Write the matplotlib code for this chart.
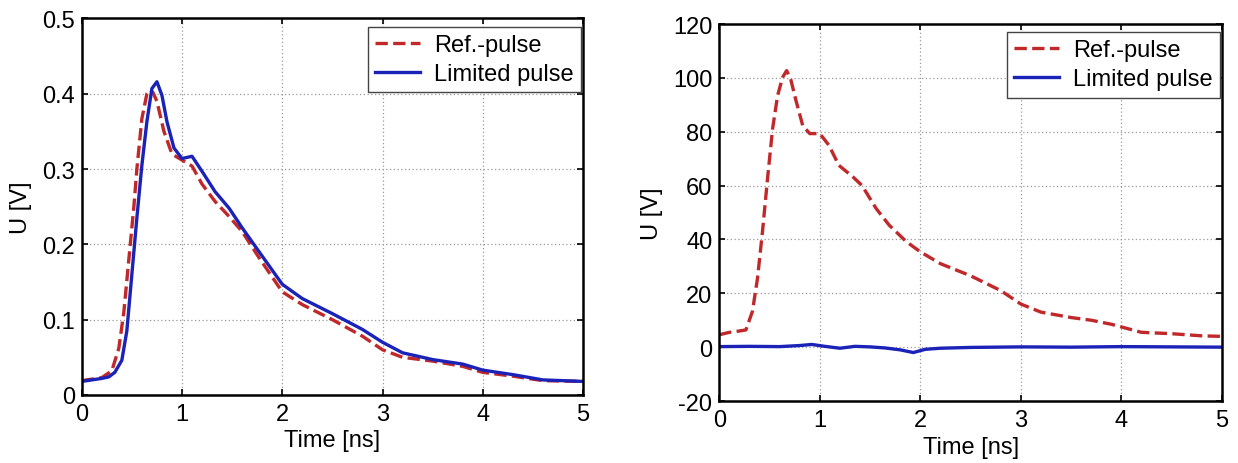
import matplotlib
matplotlib.use("Agg")
import matplotlib.pyplot as plt
import numpy as np

plt.rcParams['font.family'] = ['Liberation Sans', 'DejaVu Sans']

# left panel: small signal (V)
t_ref_a = [0, 0.1, 0.2, 0.3, 0.37, 0.42, 0.47, 0.52, 0.55, 0.6, 0.65, 0.68, 0.71, 0.75, 0.82, 0.9, 1.0, 1.1, 1.2, 1.33, 1.47, 1.6, 1.77, 2.0, 2.2, 2.5, 2.8, 3.0, 3.2, 3.5, 3.8, 4.0, 4.3, 4.6, 5.0]
u_ref_a = [0.019, 0.021, 0.023, 0.032, 0.062, 0.11, 0.18, 0.25, 0.30, 0.367, 0.40, 0.405, 0.402, 0.39, 0.35, 0.32, 0.312, 0.304, 0.28, 0.257, 0.237, 0.217, 0.182, 0.137, 0.12, 0.10, 0.078, 0.06, 0.05, 0.045, 0.038, 0.03, 0.025, 0.019, 0.018]
t_lim_a = [0, 0.1, 0.2, 0.27, 0.33, 0.4, 0.45, 0.5, 0.55, 0.6, 0.65, 0.7, 0.75, 0.8, 0.85, 0.92, 1.0, 1.1, 1.2, 1.33, 1.47, 1.6, 1.77, 2.0, 2.2, 2.5, 2.8, 3.0, 3.2, 3.5, 3.8, 4.0, 4.3, 4.6, 5.0]
u_lim_a = [0.018, 0.02, 0.022, 0.024, 0.03, 0.046, 0.085, 0.16, 0.235, 0.305, 0.363, 0.407, 0.416, 0.398, 0.363, 0.328, 0.314, 0.317, 0.297, 0.27, 0.248, 0.222, 0.19, 0.147, 0.128, 0.108, 0.087, 0.07, 0.056, 0.047, 0.041, 0.033, 0.027, 0.02, 0.018]

# right panel: large signal (V)
t_ref_b = [0, 0.1, 0.2, 0.265, 0.33, 0.38, 0.43, 0.48, 0.53, 0.58, 0.63, 0.67, 0.71, 0.76, 0.83, 0.9, 1.0, 1.09, 1.19, 1.33, 1.42, 1.56, 1.69, 1.86, 2.0, 2.2, 2.5, 2.8, 3.0, 3.2, 3.5, 3.7, 3.9, 4.0, 4.2, 4.5, 4.8, 5.0]
u_ref_b = [4.6, 5.5, 6, 6.4, 13.3, 25.5, 43, 62.6, 81, 93.4, 100.2, 102.7, 99.6, 92, 82.3, 79.3, 79.3, 75, 67.5, 63.2, 60, 51.5, 45.3, 39.2, 35.4, 31, 26.5, 21, 16, 13, 11, 10, 8.5, 7.5, 5.5, 5, 4.2, 4]
t_lim_b = [0, 0.3, 0.6, 0.8, 0.92, 1.05, 1.2, 1.35, 1.5, 1.65, 1.8, 1.93, 2.05, 2.2, 2.5, 3.0, 3.5, 4.0, 4.5, 5.0]
u_lim_b = [0.2, 0.3, 0.2, 0.6, 1.0, 0.3, -0.4, 0.3, 0.1, -0.3, -1.0, -2.0, -0.8, -0.4, -0.1, 0.1, 0.0, 0.2, 0.1, 0.0]

legend_labels = ["Ref.-pulse", "Limited pulse"]
red = "#c0282a"
blue = "#1a22b8"

fig = plt.figure(figsize=(12.38, 4.64), dpi=100)
ax1 = fig.add_axes([0.066, 0.1466, 0.405, 0.8114])
ax2 = fig.add_axes([0.581, 0.1336, 0.406, 0.8125])


def style_axes(ax, ylim, yticks, yticklabels):
    ax.set_xlim(0, 5)
    ax.set_ylim(*ylim)
    ax.set_xticks(range(6))
    ax.set_yticks(yticks)
    ax.set_yticklabels(yticklabels)
    ax.grid(True, linestyle=(0, (1, 2)), color="#999999", linewidth=0.9)
    ax.tick_params(direction="in", length=4, width=1.2, labelsize=17,
                   top=True, right=True)
    ax.tick_params(axis="x", pad=6)
    ax.tick_params(axis="y", pad=5)
    for s in ax.spines.values():
        s.set_linewidth(1.8)
    ax.set_xlabel("Time [ns]", fontsize=17, labelpad=3)
    ax.set_ylabel("U [V]", fontsize=17, labelpad=7)
    leg = ax.legend(legend_labels, loc="upper right", fontsize=17,
                    bbox_to_anchor=(0.996, 0.978),
                    fancybox=False, framealpha=1, edgecolor="#444444",
                    borderpad=0.3, handlelength=1.9, handletextpad=0.6,
                    labelspacing=0.3, borderaxespad=0)
    leg.get_frame().set_linewidth(1.0)


ax1.plot(t_ref_a, u_ref_a, color=red, linestyle="--", linewidth=2.4)
ax1.plot(t_lim_a, u_lim_a, color=blue, linestyle="-", linewidth=2.4)
style_axes(ax1, (0, 0.5), [0, 0.1, 0.2, 0.3, 0.4, 0.5],
           ["0", "0.1", "0.2", "0.3", "0.4", "0.5"])

ax2.plot(t_ref_b, u_ref_b, color=red, linestyle="--", linewidth=2.4)
ax2.plot(t_lim_b, u_lim_b, color=blue, linestyle="-", linewidth=2.4)
style_axes(ax2, (-20, 120), [-20, 0, 20, 40, 60, 80, 100, 120],
           ["-20", "0", "20", "40", "60", "80", "100", "120"])

fig.savefig("out.png", dpi=100)
